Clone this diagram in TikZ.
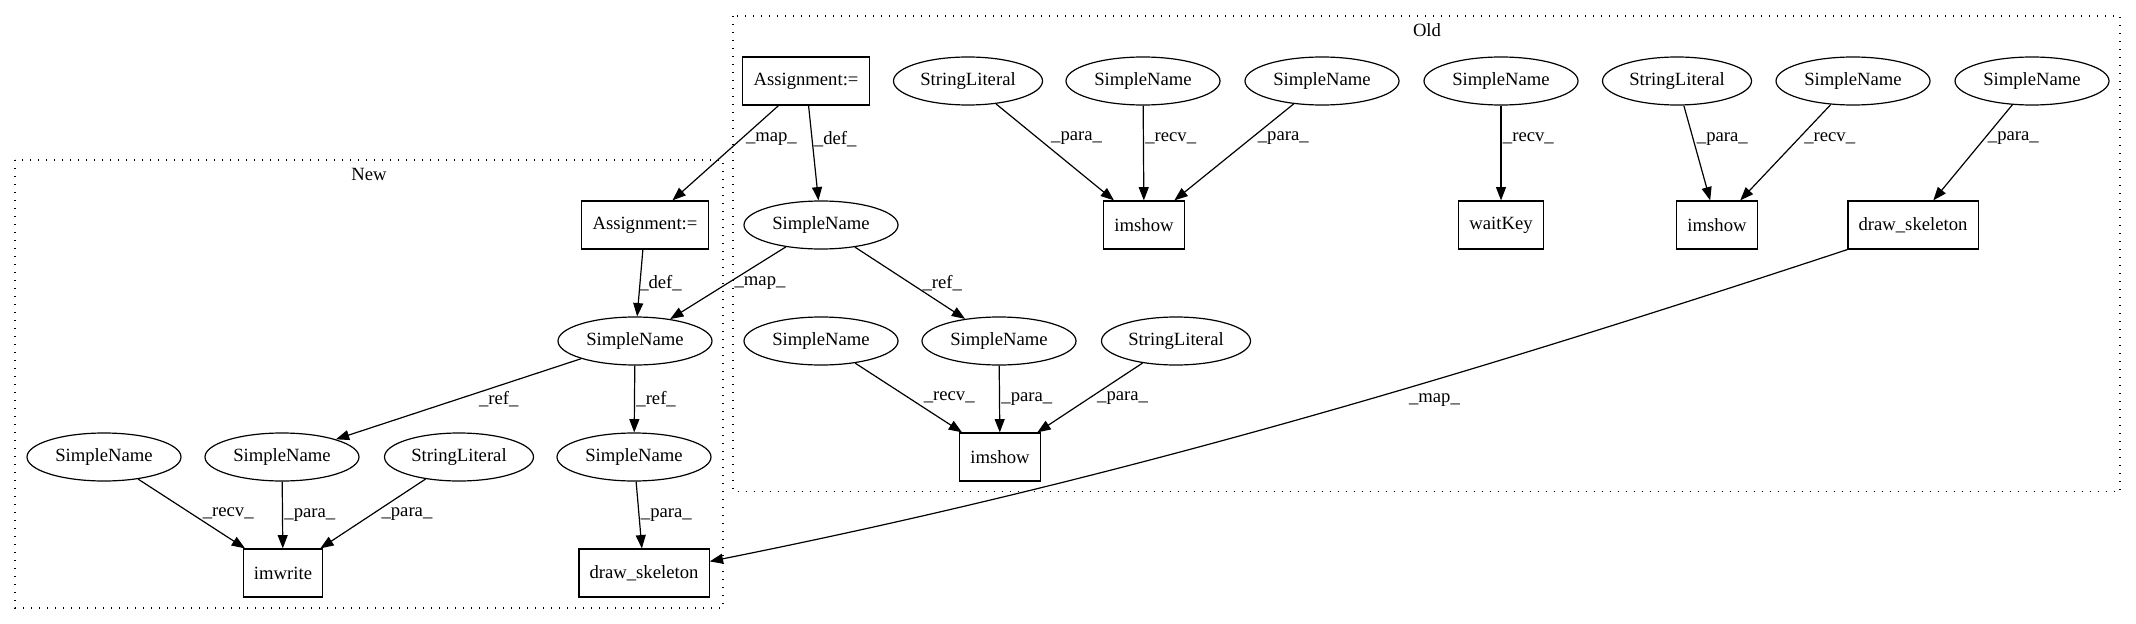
\documentclass[tikz,border=0pt]{standalone}
\usepackage{fontspec}
\setmainfont{Liberation Serif}
\usetikzlibrary{shapes.geometric,arrows.meta}

\begin{document}
\begin{tikzpicture}[x=0.75pt,y=-0.75pt,line width=0.9pt,
  font=\fontsize{14}{16}\selectfont,
  >={Triangle[length=10pt,width=7.5pt]},
  box/.style={draw,rectangle,minimum height=36pt,minimum width=54pt,inner xsep=8pt,inner ysep=0pt},
  sname/.style={draw,ellipse,minimum width=115.5pt,minimum height=36pt,inner sep=0pt},
  slit/.style={draw,ellipse,minimum width=111.75pt,minimum height=36pt,inner sep=0pt},
  lbl/.style={anchor=west,inner sep=1pt},
  cluster/.style={line width=0.9pt,dash pattern=on 1pt off 5pt}]
  \useasboundingbox (0,0) rectangle (2136,624);

  % Clusters
  \draw[cluster] (733,16) rectangle (2120,491.5);
  \node (oldlbl) at (1427,30) {Old};
  \draw[cluster] (15,160) rectangle (723,608);
  \node (newlbl) at (369,174) {New};

  % Old nodes
  \node[box]   (oasg) at (806,81)   {Assignment:=};
  \node[slit]  (osl1) at (968,81)   {StringLiteral};
  \node[sname] (osn1) at (1143,81)  {SimpleName};
  \node[sname] (osn2) at (1322,81)  {SimpleName};
  \node[sname] (osn3) at (1501,81)  {SimpleName};
  \node[slit]  (osl2) at (1677,81)  {StringLiteral};
  \node[sname] (osn4) at (1853,81)  {SimpleName};
  \node[sname] (osn5) at (2032,81)  {SimpleName};
  \node[sname] (osn6) at (821,225)  {SimpleName};
  \node[box]   (oim1) at (1144,225) {imshow};
  \node[box]   (owk)  at (1501,225) {waitKey};
  \node[box]   (oim2) at (1717,225) {imshow};
  \node[box]   (ods)  at (1913,225) {draw\_skeleton};
  \node[sname] (osn7) at (821,341)  {SimpleName};
  \node[sname] (osn8) at (999,341)  {SimpleName};
  \node[slit]  (osl3) at (1176,341) {StringLiteral};
  \node[box]   (oim3) at (1000,457) {imshow};

  % New nodes
  \node[box]   (nasg) at (645,225) {Assignment:=};
  \node[sname] (nsn1) at (635,341) {SimpleName};
  \node[sname] (nsn2) at (104,457) {SimpleName};
  \node[sname] (nsn3) at (282,457) {SimpleName};
  \node[slit]  (nsl)  at (459,457) {StringLiteral};
  \node[sname] (nsn4) at (634,457) {SimpleName};
  \node[box]   (niw)  at (283,573) {imwrite};
  \node[box]   (nds)  at (644,573) {draw\_skeleton};

  % Old edges
  \draw[->] (oasg) -- node[lbl,pos=0.35,xshift=2pt] {\_map\_} (nasg);
  \draw[->] (oasg) -- node[lbl,pos=0.35] {\_def\_} (osn6);
  \draw[->] (osl1) -- node[lbl,pos=0.35,xshift=9pt] {\_para\_} (oim1);
  \draw[->] (osn1) -- node[lbl,pos=0.35] {\_recv\_} (oim1);
  \draw[->] (osn2) -- node[lbl,pos=0.35,xshift=3pt] {\_para\_} (oim1);
  \draw[->] (osn3) -- node[lbl,pos=0.35] {\_recv\_} (owk);
  \draw[->] (osl2) -- node[lbl,pos=0.35,xshift=1.5pt] {\_para\_} (oim2);
  \draw[->] (osn4) -- node[lbl,pos=0.35,xshift=2.5pt] {\_recv\_} (oim2);
  \draw[->] (osn5) -- node[lbl,pos=0.35,xshift=1pt] {\_para\_} (ods);
  \draw[->] (osn6) -- node[lbl,midway,xshift=3.5pt] {\_map\_} (nsn1);
  \draw[->] (osn6) -- node[lbl,midway,xshift=8pt] {\_ref\_} (osn8);
  \draw[->] (osn7) -- node[lbl,midway,xshift=10pt] {\_recv\_} (oim3);
  \draw[->] (osn8) -- node[lbl,midway] {\_para\_} (oim3);
  \draw[->] (osl3) -- node[lbl,midway,xshift=4pt] {\_para\_} (oim3);
  \draw[->] (ods.south west) .. controls +(-400,132) and +(400,-80) .. (nds.10)
    node[lbl,pos=0.42,xshift=30pt] {\_map\_};

  % New edges
  \draw[->] (nasg) -- node[lbl,midway,xshift=-2pt] {\_def\_} (nsn1);
  \draw[->] (nsn1) -- node[lbl,midway,xshift=14pt] {\_ref\_} (nsn3);
  \draw[->] (nsn1) -- node[lbl,midway] {\_ref\_} (nsn4);
  \draw[->] (nsn2) -- node[lbl,midway,xshift=7pt] {\_recv\_} (niw);
  \draw[->] (nsn3) -- node[lbl,midway] {\_para\_} (niw);
  \draw[->] (nsl) -- node[lbl,midway,xshift=5pt] {\_para\_} (niw);
  \draw[->] (nsn4) -- node[lbl,midway] {\_para\_} (nds);
\end{tikzpicture}
\end{document}
